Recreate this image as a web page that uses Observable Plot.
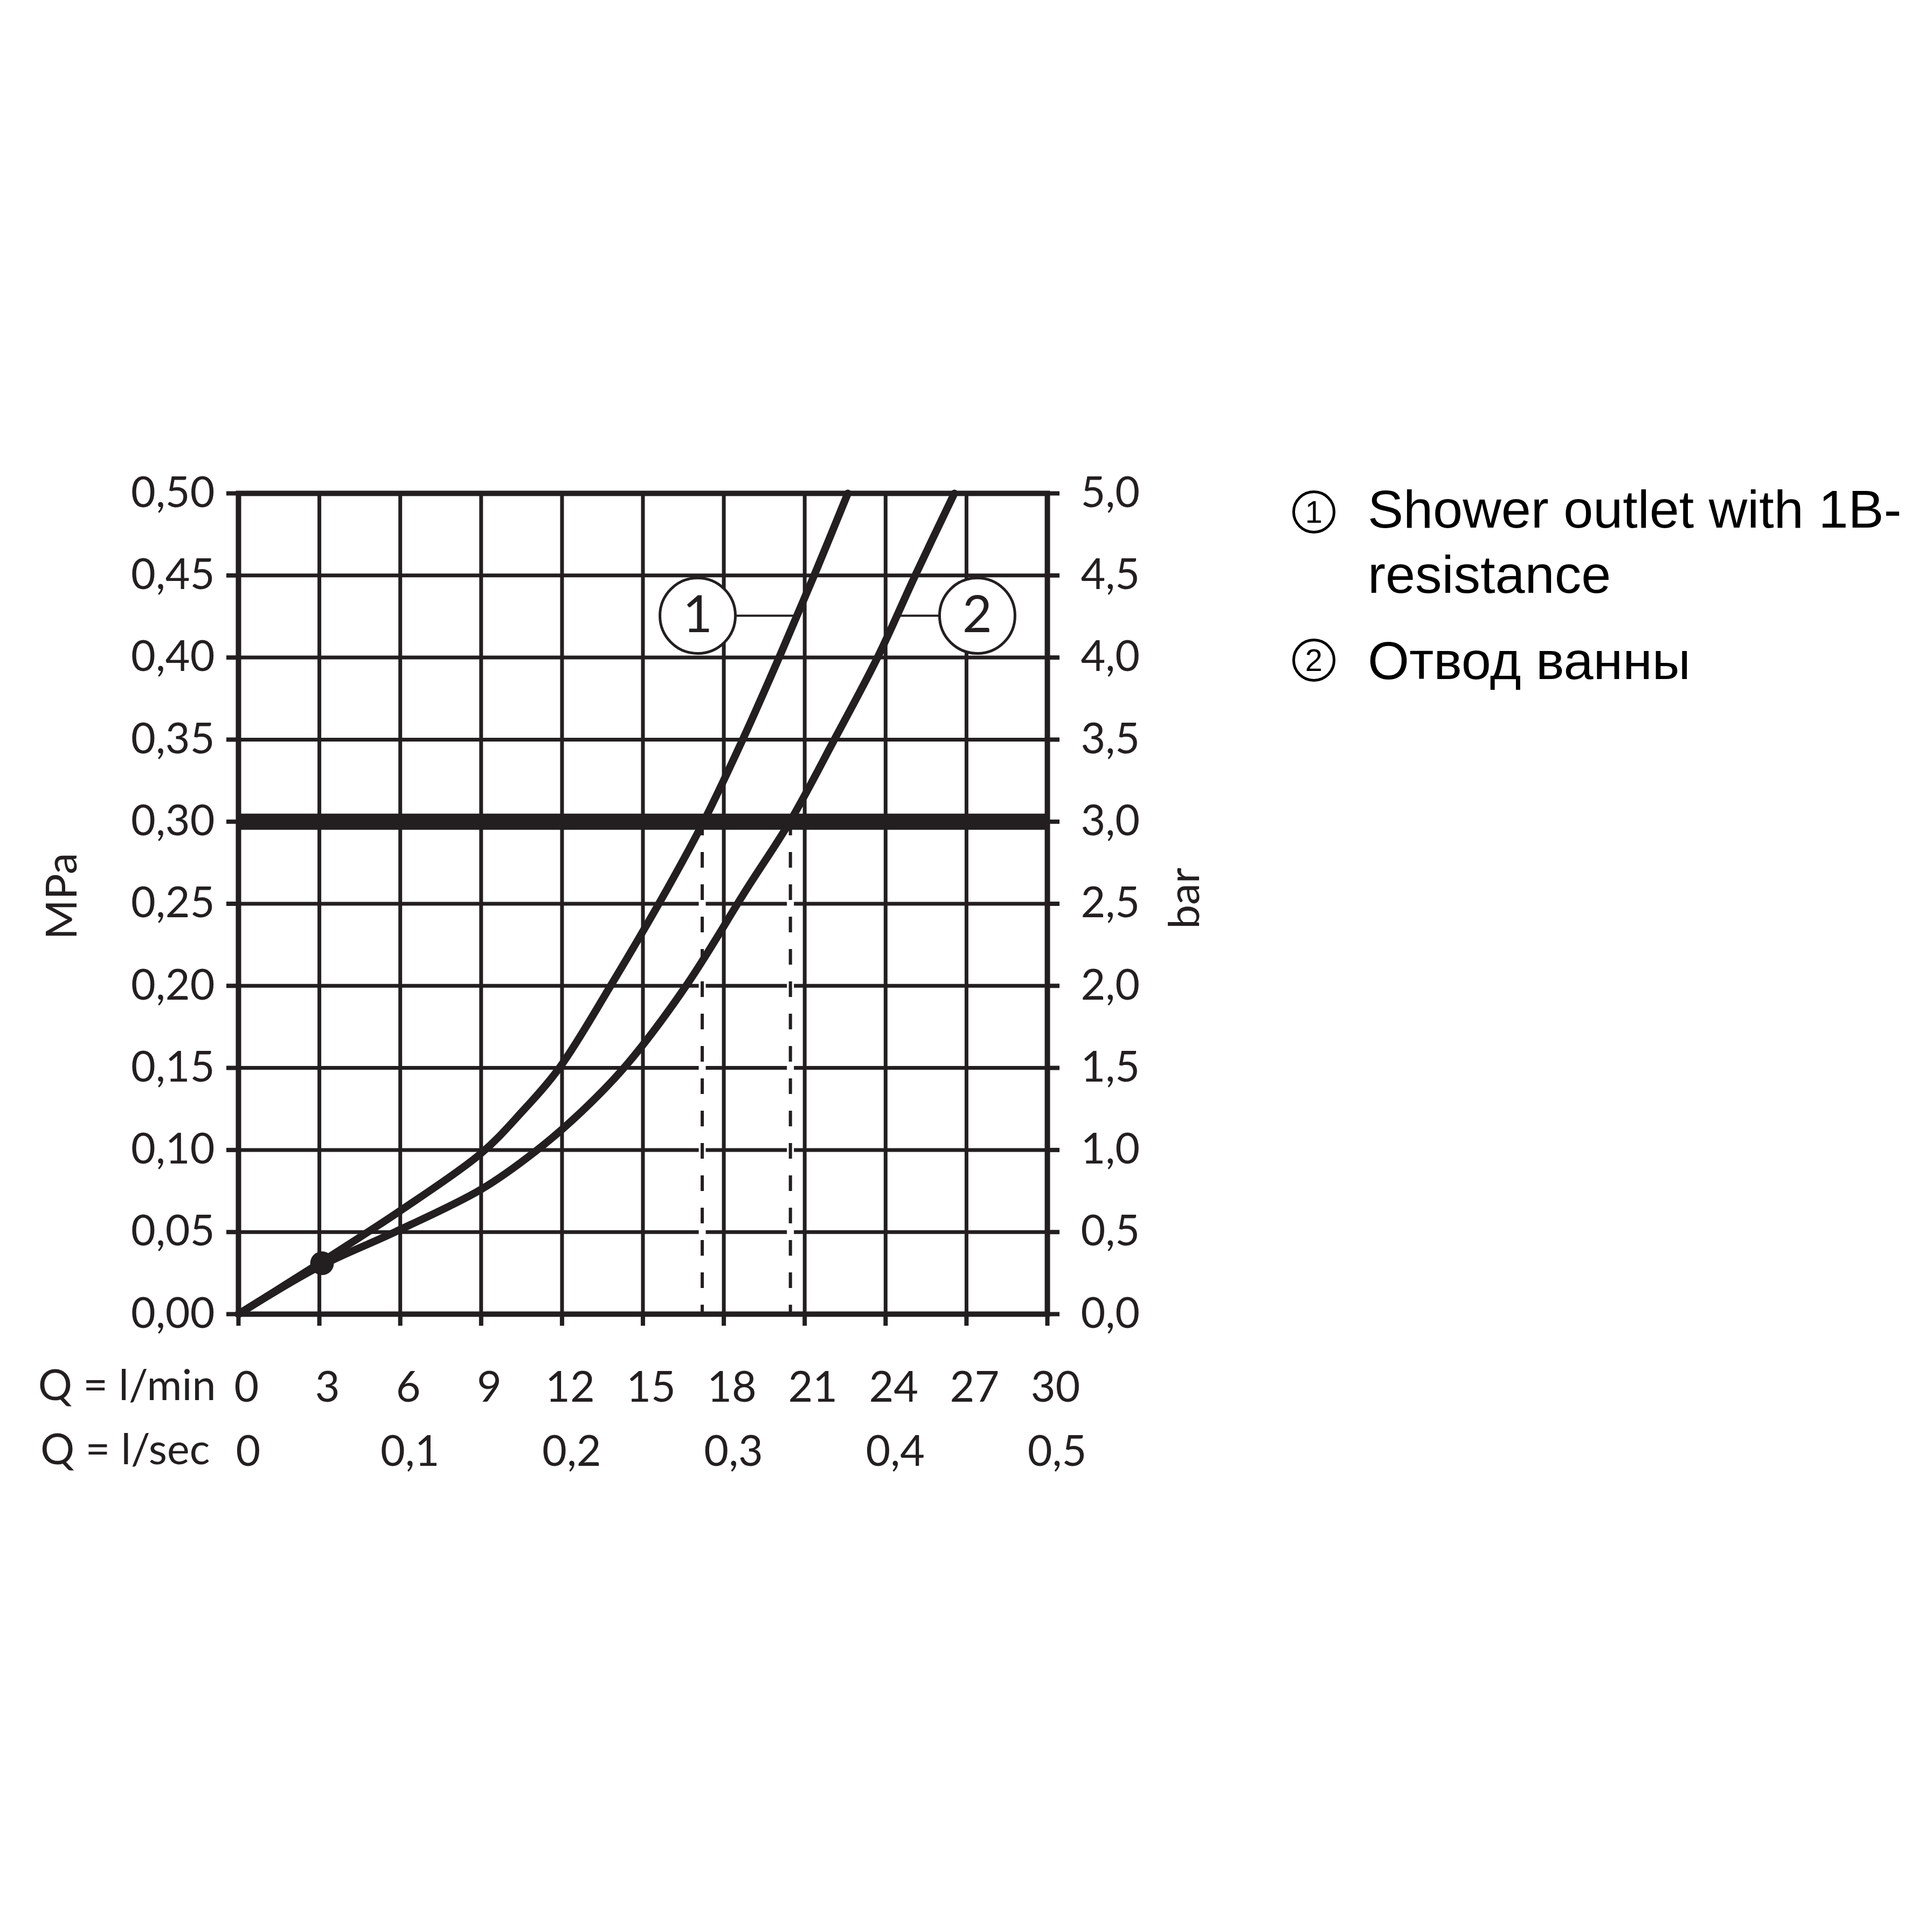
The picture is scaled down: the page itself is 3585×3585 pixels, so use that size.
<!DOCTYPE html>
<html>
<head>
<meta charset="utf-8">
<script src="https://cdn.jsdelivr.net/npm/d3@7"></script>
<script src="https://cdn.jsdelivr.net/npm/@observablehq/plot@0.6"></script>
<style>
  html, body { margin: 0; padding: 0; background: #fff; }
  #wrap { position: relative; width: 3585px; height: 3585px; }
  #legend { position: absolute; left: 0; top: 0; font-family: "Liberation Sans", Arial, sans-serif; color: #000; }
  .ltxt { position: absolute; font-size: 99px; line-height: 121px; white-space: nowrap; }
  .lnum { position: absolute; box-sizing: border-box; width: 80px; height: 80px; border: 5px solid #000; border-radius: 50%;
          font-size: 58px; line-height: 70px; text-align: center; }
</style>
</head>
<body>
<div id="wrap"><div id="chart"></div><div id="legend"></div></div>
<script>
// ---- data ----
const flowTicks = [0, 3, 6, 9, 12, 15, 18, 21, 24, 27, 30];          // l/min
const secTicks = [0, 6, 12, 18, 24, 30];                               // positions in l/min
const secLabels = ["0", "0,1", "0,2", "0,3", "0,4", "0,5"];            // l/sec
const pressTicks = [0, 0.05, 0.10, 0.15, 0.20, 0.25, 0.30, 0.35, 0.40, 0.45, 0.50];
const mpaLabels = ["0,00", "0,05", "0,10", "0,15", "0,20", "0,25", "0,30", "0,35", "0,40", "0,45", "0,50"];
const barLabels = ["0,0", "0,5", "1,0", "1,5", "2,0", "2,5", "3,0", "3,5", "4,0", "4,5", "5,0"];

// curve 1: Shower outlet with 1B-resistance
const s1Flow  = [0, 3.1, 4.8, 6, 9, 10.5, 11.9, 13.8, 15.9, 17.25, 18.7, 20.05, 21.35, 22.6];
const s1Press = [0, 0.032, 0.05, 0.063, 0.098, 0.123, 0.15, 0.20, 0.259, 0.30, 0.35, 0.40, 0.45, 0.50];
// curve 2: Отвод ванны
const s2Flow  = [0, 3, 5.8, 9, 11, 12.7, 14.4, 16.6, 18.85, 20.45, 22.1, 23.7, 25.1, 26.55];
const s2Press = [0, 0.029, 0.05, 0.076, 0.099, 0.123, 0.152, 0.20, 0.259, 0.30, 0.35, 0.40, 0.45, 0.50];

const refPressure = 0.30;                 // thick reference line (MPa)
const crossFlows = [17.2, 20.47];         // flow at reference pressure (l/min)
const markerFlow = [3.1], markerPress = [0.031];
const labelNames = ["1", "2"];
const labelFlow = [17.03, 27.4];
const labelPress = [0.4255, 0.4255];
const connFrom = [17.03, 24.33];
const connTo = [20.7, 27.4];

const legendItems = ["Shower outlet with 1B-\nresistance", "Отвод ванны"];

// ---- build ----
const C = "#231f20";
const s1 = s1Flow.map((x, i) => ({x, y: s1Press[i]}));
const s2 = s2Flow.map((x, i) => ({x, y: s2Press[i]}));
const marker = markerFlow.map((x, i) => ({x, y: markerPress[i]}));
const labels = labelNames.map((t, i) => ({t, x: labelFlow[i], y: labelPress[i]}));
const conns = connFrom.map((x1, i) => ({x1, x2: connTo[i], y: labelPress[i]}));
const tickFont = "Lato, 'Noto Sans', sans-serif";

const chart = Plot.plot({
  width: 3585,
  height: 3585,
  marginLeft: 442,
  marginRight: 1642,
  marginTop: 915,
  marginBottom: 1147,
  x: {domain: [0, 30]},
  y: {domain: [0, 0.5]},
  style: {fontFamily: tickFont, fontSize: "79px", color: C, background: "white"},
  marks: [
    Plot.gridX({ticks: flowTicks, stroke: C, strokeOpacity: 1, strokeWidth: 7}),
    Plot.gridY({ticks: pressTicks, stroke: C, strokeOpacity: 1, strokeWidth: 7}),
    // dashed drop lines with white halo
    Plot.ruleX(crossFlows, {y1: 0, y2: refPressure, stroke: "white", strokeWidth: 13}),
    Plot.ruleX(crossFlows, {y1: 0, y2: refPressure, stroke: C, strokeWidth: 6, strokeDasharray: "29,31", strokeDashoffset: 12}),
    Plot.ruleY([refPressure], {stroke: C, strokeWidth: 30}),
    Plot.frame({stroke: C, strokeWidth: 10}),
    // axes
    Plot.axisY({ticks: pressTicks, anchor: "left", tickSize: 22, tickPadding: 22, strokeWidth: 8, stroke: C, fill: C,
                tickFormat: (d, i) => mpaLabels[i], label: null}),
    Plot.axisY({ticks: pressTicks, anchor: "right", tickSize: 22, tickPadding: 40, strokeWidth: 8, stroke: C, fill: C,
                tickFormat: (d, i) => barLabels[i], textAnchor: "start", label: null}),
    Plot.axisX({ticks: flowTicks, anchor: "bottom", tickSize: 22, strokeWidth: 8, stroke: C, fill: "none", label: null}),
    Plot.axisX({ticks: flowTicks, anchor: "bottom", tickSize: 0, tickPadding: 106, stroke: "none", fill: C, dx: 15,
                tickFormat: d => String(d), label: null}),
    Plot.axisX({ticks: secTicks, anchor: "bottom", tickSize: 0, tickPadding: 225, stroke: "none", fill: C, dx: 18,
                tickFormat: (d, i) => secLabels[i], label: null}),
    Plot.text(["Q = l/min"], {frameAnchor: "bottom-left", textAnchor: "end", lineAnchor: "middle", dx: -42, dy: 134, fill: C, fontSize: 79}),
    Plot.text(["Q = l/sec"], {frameAnchor: "bottom-left", textAnchor: "end", lineAnchor: "middle", dx: -53, dy: 253, fill: C, fontSize: 79}),
    Plot.text(["MPa"], {frameAnchor: "left", rotate: -90, textAnchor: "middle", lineAnchor: "middle", dx: -326, dy: -14, fill: C, fontSize: 80}),
    Plot.text(["bar"], {frameAnchor: "right", rotate: -90, textAnchor: "middle", lineAnchor: "middle", dx: 256, dy: -10, fill: C, fontSize: 80}),
    // curves
    Plot.line(s1, {x: "x", y: "y", stroke: C, strokeWidth: 14, curve: "catmull-rom", strokeLinecap: "round"}),
    Plot.line(s2, {x: "x", y: "y", stroke: C, strokeWidth: 14, curve: "catmull-rom", strokeLinecap: "round"}),
    Plot.dot(marker, {x: "x", y: "y", r: 22, fill: C, stroke: "none"}),
    // curve labels
    Plot.link(conns, {x1: "x1", x2: "x2", y1: "y", y2: "y", stroke: C, strokeWidth: 4}),
    Plot.dot(labels, {x: "x", y: "y", r: 70, fill: "white", stroke: C, strokeWidth: 5}),
    Plot.text(labels, {x: "x", y: "y", text: "t", fill: C, fontSize: 95, lineAnchor: "middle", textAnchor: "middle"})
  ]
});
document.getElementById("chart").append(chart);

// legend
const lg = document.getElementById("legend");
const legendTops = [884, 1165];
const circleTops = [910, 1185];
legendItems.forEach((txt, i) => {
  const n = document.createElement("div");
  n.className = "lnum";
  n.style.left = "2398px";
  n.style.top = circleTops[i] + "px";
  n.textContent = String(i + 1);
  lg.append(n);
  const t = document.createElement("div");
  t.className = "ltxt";
  t.style.left = "2538px";
  t.style.top = legendTops[i] + "px";
  t.innerHTML = txt.split("\n").join("<br>");
  lg.append(t);
});
</script>
</body>
</html>
